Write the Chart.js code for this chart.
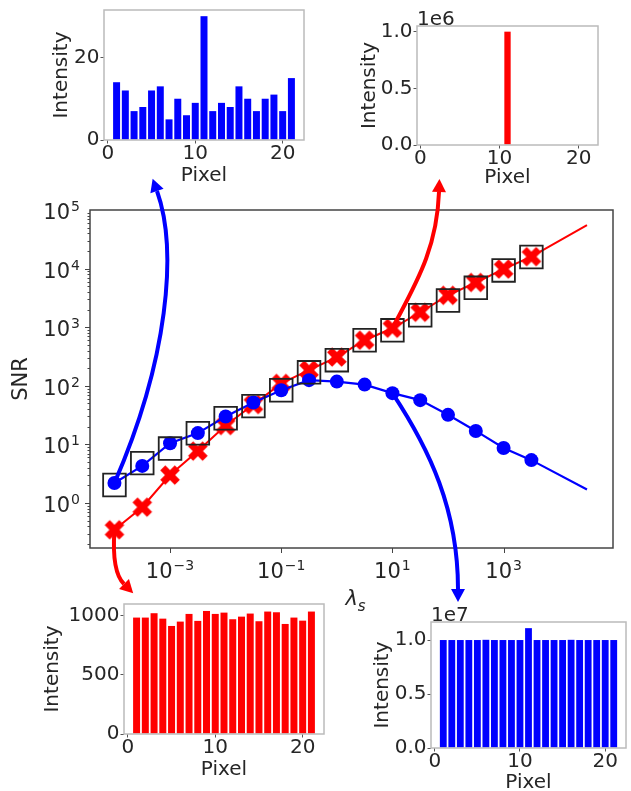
<!DOCTYPE html>
<html lang="en">
<head>
<meta charset="UTF-8">
<title>SNR vs lambda_s</title>
<script src="https://cdn.jsdelivr.net/npm/chart.js@4.4.0/dist/chart.umd.min.js"></script>
<style>
    body { margin: 0; background: #fff; overflow: hidden; }
    #wrap { position: relative; width: 631px; height: 791px; }
    canvas { position: absolute; }
</style>
</head>
<body>
<div id="wrap">
    <canvas id="main" width="631" height="791" style="left:0;top:0"></canvas>
    <canvas id="tl" width="270" height="192" style="left:40px;top:0"></canvas>
    <canvas id="tr" width="260" height="192" style="left:350px;top:0"></canvas>
    <canvas id="bl" width="295" height="199" style="left:40px;top:592px"></canvas>
    <canvas id="br" width="281" height="200" style="left:350px;top:600px"></canvas>
</div>
<script type="text/javascript">
    const FONT = '"DejaVu Sans", sans-serif';
    const TEXT = '#262626';

    // main panel: SNR against lambda_s
    const lambdaS = [1e-4, 3.162e-4, 1e-3, 3.162e-3, 0.01, 0.03162, 0.1, 0.3162, 1, 3.162, 10, 31.62, 100, 316.2, 1000, 3162];
    const snrBlue = [2.2, 4.3, 10.5, 15.6, 30, 52, 84, 125, 118, 105, 75, 57, 32, 17, 8.7, 5.4];
    const snrRed = [0.35, 0.85, 3.0, 7.7, 21, 48, 110, 185, 310, 600, 960, 1800, 3500, 5800, 9800, 16000];
    const snrBox = [2.03, 4.8, 8.5, 15.5, 28, 45, 84, 170, 274, 600, 885, 1600, 2860, 4700, 9300, 15800];
    const lambdaEnd = 31620, blueEnd = 1.7, redEnd = 55000;
    const yDecades = [0, 1, 2, 3, 4, 5];
    const xDecades = [-3, -1, 1, 3];

    // insets: intensity per pixel
    const pixels = [1, 2, 3, 4, 5, 6, 7, 8, 9, 10, 11, 12, 13, 14, 15, 16, 17, 18, 19, 20, 21];
    const countsTopLeft = [14, 12, 7, 8, 12, 13, 5, 10, 6, 9, 30, 7, 9, 8, 13, 10, 7, 10, 11, 7, 15];
    const countsTopRight = [0, 0, 0, 0, 0, 0, 0, 0, 0, 0, 1000000, 0, 0, 0, 0, 0, 0, 0, 0, 0, 0];
    const countsBottomLeft = [986, 986, 1023, 977, 915, 952, 1017, 958, 1042, 1017, 1028, 972, 994, 1020, 955, 1037, 1031, 932, 986, 960, 1037];
    const countsBottomRight = [1.0e7, 1.0e7, 1.0e7, 1.0e7, 1.0e7, 1.002e7, 1.0e7, 1.0e7, 1.0e7, 1.0e7, 1.11e7, 1.0e7, 1.0e7, 1.0e7, 1.0e7, 1.002e7, 1.0e7, 1.0e7, 1.0e7, 1.0e7, 1.0e7];

    const pts = (xs, ys) => xs.map((x, i) => ({x: x, y: ys[i]}));

    // curved arrows from a point of the main panel to an inset (control points in page px)
    const arrows = [
        {color: '#0000ff', from: [lambdaS[0], snrBlue[0]], c1: [168, 360], c2: [178, 250], end: [157, 191]},
        {color: '#ff0000', from: [lambdaS[10], snrRed[10]], c1: [415, 285], c2: [437, 250], end: [439, 192]},
        {color: '#ff0000', from: [lambdaS[0], snrRed[0]], c1: [112, 565], c2: [118, 578], end: [124, 584]},
        {color: '#0000ff', from: [lambdaS[10], snrBlue[10]], c1: [430, 450], c2: [458, 510], end: [458, 589]},
    ];

    // filled "X" marker like matplotlib's
    function xMarker(color) {
        const c = document.createElement('canvas');
        c.width = 22; c.height = 22;
        const g = c.getContext('2d');
        const w = 3.6, L = 10.3;
        const poly = [[-w, -L], [w, -L], [w, -w], [L, -w], [L, w], [w, w], [w, L], [-w, L], [-w, w], [-L, w], [-L, -w], [-w, -w]];
        g.translate(11, 11);
        g.rotate(Math.PI / 4);
        g.fillStyle = color;
        g.beginPath();
        poly.forEach((p, i) => i ? g.lineTo(p[0], p[1]) : g.moveTo(p[0], p[1]));
        g.closePath();
        g.fill();
        return c;
    }

    function drawPow(ctx, exp, x, baseY, align) {
        const base = '10';
        const sup = exp < 0 ? '\u2212' + (-exp) : String(exp);
        ctx.font = '21px ' + FONT;
        const wb = ctx.measureText(base).width;
        ctx.font = '14px ' + FONT;
        const ws = ctx.measureText(sup).width;
        const w = wb + 1 + ws;
        const x0 = align === 'right' ? x - w : x - w / 2;
        ctx.textAlign = 'left';
        ctx.textBaseline = 'alphabetic';
        ctx.font = '21px ' + FONT;
        ctx.fillText(base, x0, baseY);
        ctx.font = '14px ' + FONT;
        ctx.fillText(sup, x0 + wb + 1, baseY - 8);
    }

    const mainAxes = {
        id: 'mainAxes',
        beforeDatasetsDraw(chart) {
            const {ctx, chartArea: a, scales: {x, y}} = chart;
            ctx.save();
            ctx.strokeStyle = '#444';
            ctx.lineWidth = 1.5;
            ctx.strokeRect(a.left, a.top, a.right - a.left, a.bottom - a.top);
            ctx.lineWidth = 1;
            ctx.beginPath();
            for (let d = -1; d <= 4; d++) {
                for (let m = 1; m <= 9; m++) {
                    const v = m * Math.pow(10, d);
                    if (v < y.min || v > y.max) continue;
                    const py = Math.round(y.getPixelForValue(v)) + 0.5;
                    const len = m === 1 ? 5 : 2.5;
                    ctx.moveTo(a.left - len, py);
                    ctx.lineTo(a.left, py);
                }
            }
            xDecades.forEach(e => {
                const px = Math.round(x.getPixelForValue(Math.pow(10, e))) + 0.5;
                ctx.moveTo(px, a.bottom);
                ctx.lineTo(px, a.bottom + 5);
            });
            ctx.stroke();

            ctx.fillStyle = TEXT;
            yDecades.forEach(e => drawPow(ctx, e, a.left - 10, y.getPixelForValue(Math.pow(10, e)) + 9, 'right'));
            xDecades.forEach(e => drawPow(ctx, e, x.getPixelForValue(Math.pow(10, e)), a.bottom + 30, 'center'));

            // axis titles
            ctx.save();
            ctx.translate(22, (a.top + a.bottom) / 2);
            ctx.rotate(-Math.PI / 2);
            ctx.font = '21px ' + FONT;
            ctx.textAlign = 'center';
            ctx.textBaseline = 'middle';
            ctx.fillText('SNR', 0, 0);
            ctx.restore();

            ctx.font = 'italic 21px ' + FONT;
            const wl = ctx.measureText('\u03bb').width;
            ctx.font = 'italic 15px ' + FONT;
            const wsub = ctx.measureText('s').width;
            const lx = (a.left + a.right) / 2 + 4 - (wl + wsub) / 2;
            ctx.textAlign = 'left';
            ctx.textBaseline = 'alphabetic';
            ctx.font = 'italic 21px ' + FONT;
            ctx.fillText('\u03bb', lx, a.bottom + 57);
            ctx.font = 'italic 15px ' + FONT;
            ctx.fillText('s', lx + wl, a.bottom + 63);
            ctx.restore();
        },
        afterDatasetsDraw(chart) {
            const {ctx, scales: {x, y}} = chart;
            ctx.save();
            arrows.forEach(ar => {
                const sx = x.getPixelForValue(ar.from[0]);
                const sy = y.getPixelForValue(ar.from[1]);
                const [ex, ey] = ar.end;
                let dx = ex - ar.c2[0], dy = ey - ar.c2[1];
                const n = Math.hypot(dx, dy);
                dx /= n; dy /= n;
                ctx.strokeStyle = ar.color;
                ctx.fillStyle = ar.color;
                ctx.lineWidth = 4;
                ctx.beginPath();
                ctx.moveTo(sx, sy);
                ctx.bezierCurveTo(ar.c1[0], ar.c1[1], ar.c2[0], ar.c2[1], ex, ey);
                ctx.stroke();
                const head = 13, half = 7;
                ctx.beginPath();
                ctx.moveTo(ex + dx * head, ey + dy * head);
                ctx.lineTo(ex - dy * half, ey + dx * half);
                ctx.lineTo(ex + dy * half, ey - dx * half);
                ctx.closePath();
                ctx.fill();
            });
            ctx.restore();
        }
    };

    new Chart(document.getElementById('main'), {
        type: 'scatter',
        data: {
            datasets: [
                {data: pts(lambdaS, snrBox), pointStyle: 'rect', pointRadius: 16, borderColor: '#222', borderWidth: 1.8, backgroundColor: 'rgba(0,0,0,0)'},
                {data: pts(lambdaS, snrBlue), pointStyle: 'circle', pointRadius: 7, backgroundColor: '#0000ff', borderColor: '#0000ff', borderWidth: 0},
                {data: pts(lambdaS.concat([lambdaEnd]), snrBlue.concat([blueEnd])), showLine: true, pointRadius: 0, borderColor: '#0000ff', borderWidth: 2.2},
                {data: pts(lambdaS, snrRed), pointStyle: xMarker('#ff0000'), pointRadius: 11},
                {data: pts(lambdaS.concat([lambdaEnd]), snrRed.concat([redEnd])), showLine: true, pointRadius: 0, borderColor: '#ff0000', borderWidth: 2},
            ]
        },
        options: {
            responsive: false,
            animation: false,
            events: [],
            layout: {padding: {left: 90, top: 210, right: 18, bottom: 243}},
            plugins: {legend: {display: false}, tooltip: {enabled: false}},
            scales: {
                x: {type: 'logarithmic', display: false, min: Math.pow(10, -4.44), max: Math.pow(10, 4.968)},
                y: {type: 'logarithmic', display: false, min: 0.171, max: 1e5}
            }
        },
        plugins: [mainAxes]
    });

    const insetFrame = {
        id: 'insetFrame',
        afterDatasetsDraw(chart, args, opts) {
            const {ctx, chartArea: a} = chart;
            ctx.save();
            ctx.strokeStyle = '#bbbbbb';
            ctx.lineWidth = 1.5;
            ctx.strokeRect(a.left, a.top, a.right - a.left, a.bottom - a.top);
            if (opts.offset) {
                ctx.fillStyle = TEXT;
                ctx.font = '20px ' + FONT;
                ctx.textAlign = 'left';
                ctx.textBaseline = 'alphabetic';
                ctx.fillText(opts.offset, a.left, a.top - 1);
            }
            ctx.restore();
        }
    };

    function inset(id, o) {
        const tickFont = {family: FONT, size: 20, lineHeight: 1};
        const titleFont = {family: FONT, size: 20, lineHeight: 1.2};
        return new Chart(document.getElementById(id), {
            type: 'bar',
            data: {
                datasets: [{
                    data: pts(pixels, o.values),
                    backgroundColor: o.color,
                    borderWidth: 0,
                    barPercentage: 0.8,
                    categoryPercentage: 1
                }]
            },
            options: {
                responsive: false,
                animation: false,
                events: [],
                layout: {padding: {left: 0, top: o.top, right: o.right, bottom: 0}},
                plugins: {legend: {display: false}, tooltip: {enabled: false}, insetFrame: {offset: o.offset}},
                scales: {
                    x: {
                        type: 'linear', min: -0.44, max: 22.44, offset: false,
                        afterBuildTicks: s => { s.ticks = [0, 10, 20].map(v => ({value: v})); },
                        afterFit: s => { s.height = o.xh; s.paddingLeft = 0; s.paddingRight = 0; },
                        ticks: {font: tickFont, color: TEXT, padding: 0, maxRotation: 0, autoSkip: false},
                        grid: {drawOnChartArea: false, drawTicks: true, tickLength: 3.5, color: '#555', offset: false},
                        border: {display: false},
                        title: {display: true, text: 'Pixel', font: titleFont, color: TEXT, padding: {top: 0, bottom: o.xtp}}
                    },
                    y: {
                        min: 0, max: o.ymax,
                        afterBuildTicks: s => { s.ticks = o.yticks.map(v => ({value: v})); },
                        afterFit: s => { s.width = o.yw; s.paddingTop = 0; s.paddingBottom = 0; },
                        ticks: {font: tickFont, color: TEXT, padding: 1, callback: o.fmt},
                        grid: {drawOnChartArea: false, drawTicks: true, tickLength: 3.5, color: '#555'},
                        border: {display: false},
                        title: {display: true, text: 'Intensity', font: titleFont, color: TEXT, padding: {top: o.ytp, bottom: 0}}
                    }
                }
            },
            plugins: [insetFrame]
        });
    }

    inset('tl', {values: countsTopLeft, color: '#0000ff', ymax: 31.5, yticks: [0, 20], fmt: v => String(v),
        top: 10, right: 6, xh: 52, xtp: 4, yw: 64, ytp: 10});
    inset('tr', {values: countsTopRight, color: '#ff0000', ymax: 1.05e6, yticks: [0, 5e5, 1e6], fmt: v => (v / 1e6).toFixed(1),
        top: 26, right: 12, xh: 47, xtp: 2, yw: 67, ytp: 8, offset: '1e6'});
    inset('bl', {values: countsBottomLeft, color: '#ff0000', ymax: 1101, yticks: [0, 500, 1000], fmt: v => String(v),
        top: 12, right: 11, xh: 57, xtp: 9, yw: 84, ytp: 1});
    inset('br', {values: countsBottomRight, color: '#0000ff', ymax: 1.167e7, yticks: [0, 5e6, 1e7], fmt: v => (v / 1e7).toFixed(1),
        top: 22, right: 5, xh: 52, xtp: 5, yw: 81, ytp: 21, offset: '1e7'});
</script>
</body>
</html>
